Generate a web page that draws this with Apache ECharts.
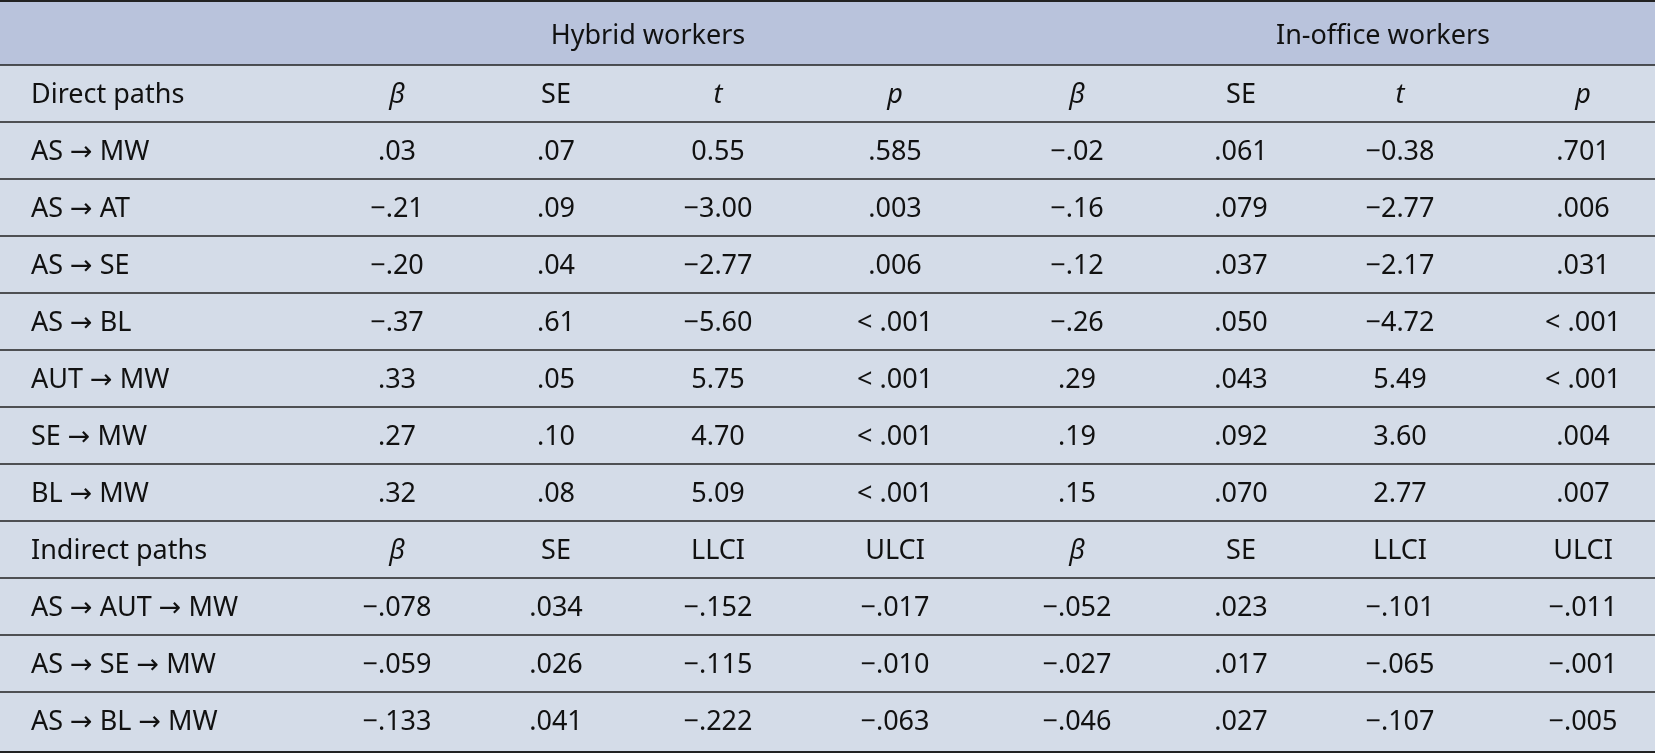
<!DOCTYPE html>
<html><head><meta charset="utf-8">
<script src="https://cdn.jsdelivr.net/npm/echarts@6/dist/echarts.min.js"></script>
<style>html,body{margin:0;padding:0;background:#fff}#c{width:1655px;height:753px}</style>
</head><body><div id="c"></div>
<script>
const groupHeaders = ["Hybrid workers", "In-office workers"];
const directHeader = ["Direct paths","β","SE","t","p","β","SE","t","p"];
const directRows = [
 ["AS → MW",".03",".07","0.55",".585","−.02",".061","−0.38",".701"],
 ["AS → AT","−.21",".09","−3.00",".003","−.16",".079","−2.77",".006"],
 ["AS → SE","−.20",".04","−2.77",".006","−.12",".037","−2.17",".031"],
 ["AS → BL","−.37",".61","−5.60","< .001","−.26",".050","−4.72","< .001"],
 ["AUT → MW",".33",".05","5.75","< .001",".29",".043","5.49","< .001"],
 ["SE → MW",".27",".10","4.70","< .001",".19",".092","3.60",".004"],
 ["BL → MW",".32",".08","5.09","< .001",".15",".070","2.77",".007"]
];
const indirectHeader = ["Indirect paths","β","SE","LLCI","ULCI","β","SE","LLCI","ULCI"];
const indirectRows = [
 ["AS → AUT → MW","−.078",".034","−.152","−.017","−.052",".023","−.101","−.011"],
 ["AS → SE → MW","−.059",".026","−.115","−.010","−.027",".017","−.065","−.001"],
 ["AS → BL → MW","−.133",".041","−.222","−.063","−.046",".027","−.107","−.005"]
];
const rows = [directHeader, ...directRows, indirectHeader, ...indirectRows];
const italicCells = {"β":1,"t":1,"p":1};
const colX = [31, 397, 556, 718, 895, 1077, 1241, 1400, 1583];
const groupX = [648, 1383];
const W = 1655, headH = 65, rowH = 57;
const font = '"Noto Sans", sans-serif', fs = 27;
const rich = {a:{font: fs+'px "DejaVu Sans"', fill:'#111'}};
function fmt(t){ return t.split('→').join('{a|→}'); }
const g = [];
g.push({type:'rect', shape:{x:0,y:0,width:W,height:753}, style:{fill:'#d4dce8'}, silent:true});
g.push({type:'rect', shape:{x:0,y:0,width:W,height:headH}, style:{fill:'#b9c3dc'}, silent:true});
groupHeaders.forEach((t,i)=>g.push({type:'text', x:groupX[i], y:headH/2+4, style:{text:t, font:fs+'px '+font, fill:'#111', align:'center', verticalAlign:'middle'}}));
rows.forEach((r,ri)=>{
  const y = headH + rowH*ri + rowH/2 + 2;
  r.forEach((t,ci)=>{
    const it = (ci>0 && italicCells[t]) ? 'italic ' : '';
    g.push({type:'text', x:colX[ci], y:y, style:{text:fmt(t), rich:rich, font:it+fs+'px '+font, fill:'#111', align: ci===0?'left':'center', verticalAlign:'middle'}});
  });
});
const lineYs = [headH];
for (let i=1;i<rows.length;i++) lineYs.push(headH+rowH*i);
g.push({type:'line', shape:{x1:0,y1:1,x2:W,y2:1}, style:{stroke:'#222',lineWidth:2}});
lineYs.forEach(y=>g.push({type:'line', shape:{x1:0,y1:y,x2:W,y2:y}, style:{stroke:'#222',lineWidth:1.5}}));
g.push({type:'line', shape:{x1:0,y1:752,x2:W,y2:752}, style:{stroke:'#222',lineWidth:2}});
const chart = echarts.init(document.getElementById('c'));
chart.setOption({animation:false, graphic:g});
</script></body></html>
